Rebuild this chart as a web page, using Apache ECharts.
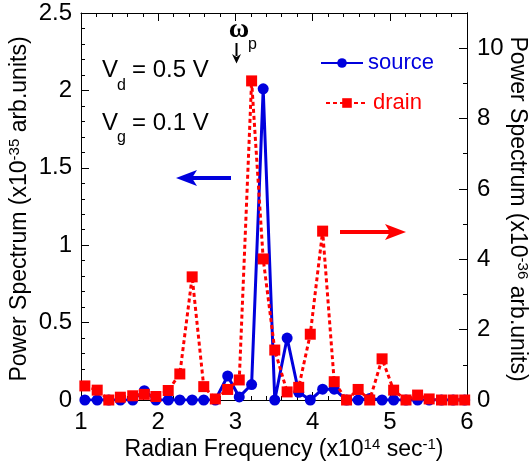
<!DOCTYPE html>
<html>
<head>
<meta charset="utf-8">
<script src="https://cdn.jsdelivr.net/npm/echarts@6/dist/echarts.min.js"></script>
<style>
html,body{margin:0;padding:0;background:#fff;}
#c{width:531px;height:470px;}
</style>
</head>
<body>
<div id="c"></div>
<script>
// Radian frequency (x10^14 sec^-1)
const freq = [1.05,1.21,1.36,1.51,1.67,1.82,1.97,2.13,2.28,2.44,2.59,2.74,2.90,3.05,3.21,3.36,3.51,3.67,3.82,3.97,4.13,4.28,4.44,4.59,4.74,4.90,5.05,5.21,5.36,5.51,5.67,5.82,5.97];
// source power spectrum (x10^-35 arb.units, left axis)
const sourceVals = [0,0,0,0,0,0.06,0,0,0,0,0,0,0.155,0.02,0.1,2.01,0,0.4,0.05,0,0.07,0.07,0,0,0.01,0,0,0,0,0,0,0,0];
// drain power spectrum (x10^-36 arb.units, right axis)
const drainVals = [0.40,0.28,0,0.08,0.12,0.16,0.10,0.27,0.74,3.5,0.38,0.03,0.30,0.57,9.07,4.01,1.42,0.23,0.36,1.87,4.80,0.52,0,0.30,0,1.17,0.28,0,0.14,0.03,0,0,0];
const seriesNames = ['source','drain'];
const leftTicks = {min:0, max:2.5, step:0.5};
const rightTicks = {min:0, max:11, step:2, labelMax:10};
const xTicks = {min:1, max:6, step:1};

const BLUE = '#0000dd', RED = '#ff0000';
const FONT = 'Liberation Sans, Arial, sans-serif';

const chart = echarts.init(document.getElementById('c'), null, {renderer:'canvas'});

const axisCommon = {
  axisLine:{show:true, onZero:false, lineStyle:{color:'#000', width:1}},
  axisTick:{show:true, inside:true, length:8, lineStyle:{color:'#000', width:1}},
  minorTick:{show:true, length:4, lineStyle:{color:'#000', width:1}},
  splitLine:{show:false}, minorSplitLine:{show:false}
};

const supRich = {
  n:{fontSize:23, fontFamily:FONT, color:'#000'},
  s:{fontSize:15, fontFamily:FONT, color:'#000', verticalAlign:'top', padding:[0,0,10,0]}
};

chart.setOption({
  backgroundColor:'#fff',
  animation:false,
  grid:{left:81, right:64, top:13, bottom:70, containLabel:false},
  xAxis:[
    Object.assign({}, axisCommon, {type:'value', min:xTicks.min, max:xTicks.max, interval:xTicks.step, position:'bottom',
      minorTick:Object.assign({}, axisCommon.minorTick, {splitNumber:5}),
      axisLabel:{fontSize:24, color:'#000', margin:10, fontFamily:FONT}}),
    Object.assign({}, axisCommon, {type:'value', min:xTicks.min, max:xTicks.max, interval:xTicks.step, position:'top',
      minorTick:Object.assign({}, axisCommon.minorTick, {splitNumber:5}),
      axisLabel:{show:false}})
  ],
  yAxis:[
    Object.assign({}, axisCommon, {type:'value', min:leftTicks.min, max:leftTicks.max, interval:leftTicks.step, position:'left',
      minorTick:Object.assign({}, axisCommon.minorTick, {splitNumber:5}),
      axisLabel:{fontSize:24, color:'#000', margin:9, fontFamily:FONT}}),
    Object.assign({}, axisCommon, {type:'value', min:rightTicks.min, max:rightTicks.max, interval:rightTicks.step, position:'right',
      minorTick:{show:false},
      axisLabel:{fontSize:24, color:'#000', margin:10, fontFamily:FONT,
        formatter:function(v){ return v <= rightTicks.labelMax ? String(v) : ''; }}}),
    Object.assign({}, axisCommon, {type:'value', min:rightTicks.min, max:rightTicks.max, interval:1, position:'right',
      axisTick:Object.assign({}, axisCommon.axisTick, {length:4}),
      minorTick:{show:false}, axisLabel:{show:false}})
  ],
  legend:[
    {data:[seriesNames[0]], left:315, top:47, itemWidth:42, itemHeight:12, padding:5,
     textStyle:{color:BLUE, fontSize:22, fontFamily:FONT}},
    {data:[seriesNames[1]], left:320, top:87, itemWidth:42, itemHeight:12, padding:5,
     textStyle:{color:RED, fontSize:22, fontFamily:FONT}}
  ],
  series:[
    {name:seriesNames[0], type:'line', xAxisIndex:0, yAxisIndex:0,
     data:freq.map((x,i)=>[x, sourceVals[i]]),
     symbol:'circle', symbolSize:11, showSymbol:true,
     lineStyle:{color:BLUE, width:3}, itemStyle:{color:BLUE}, z:2},
    {name:seriesNames[1], type:'line', xAxisIndex:0, yAxisIndex:1,
     data:freq.map((x,i)=>[x, drainVals[i]]),
     symbol:'rect', symbolSize:11, showSymbol:true,
     lineStyle:{color:RED, width:3, type:[4,3]}, itemStyle:{color:RED}, z:3}
  ],
  graphic:[
    // axis titles
    {type:'text', x:20, y:209, rotation:Math.PI/2, z:10,
     style:{text:'{n|Power Spectrum (x10}{s|-35}{n| arb.units)}', rich:supRich, align:'center', verticalAlign:'middle'}},
    {type:'text', x:517, y:209, rotation:-Math.PI/2, z:10,
     style:{text:'{n|Power Spectrum (x10}{s|-36}{n| arb.units)}', rich:supRich, align:'center', verticalAlign:'middle'}},
    {type:'text', x:284, y:450, z:10,
     style:{text:'{n|Radian Frequency (x10}{s|14}{n| sec}{s|-1}{n|)}', rich:supRich, align:'center', verticalAlign:'middle'}},
    // V_d, V_g annotations
    {type:'text', x:102, y:70, style:{text:'V', font:'24px '+FONT, fill:'#000', align:'left', verticalAlign:'middle'}},
    {type:'text', x:117, y:86, style:{text:'d', font:'16px '+FONT, fill:'#000', align:'left', verticalAlign:'middle'}},
    {type:'text', x:132, y:70, style:{text:'= 0.5 V', font:'24px '+FONT, fill:'#000', align:'left', verticalAlign:'middle'}},
    {type:'text', x:102, y:123, style:{text:'V', font:'24px '+FONT, fill:'#000', align:'left', verticalAlign:'middle'}},
    {type:'text', x:117, y:138, style:{text:'g', font:'16px '+FONT, fill:'#000', align:'left', verticalAlign:'middle'}},
    {type:'text', x:132, y:123, style:{text:'= 0.1 V', font:'24px '+FONT, fill:'#000', align:'left', verticalAlign:'middle'}},
    // omega_p
    {type:'text', x:239, y:30, style:{text:'ω', font:'bold 28px Liberation Serif, serif', fill:'#000', align:'center', verticalAlign:'middle'}},
    {type:'text', x:248, y:45, style:{text:'p', font:'16px '+FONT, fill:'#000', align:'left', verticalAlign:'middle'}},
    {type:'line', shape:{x1:236.5, y1:43, x2:236.5, y2:56}, style:{stroke:'#000', lineWidth:2}},
    {type:'polygon', shape:{points:[[236.5,63.5],[232,54],[236.5,57],[241,54]]}, style:{fill:'#000'}},
    // blue arrow (left)
    {type:'line', shape:{x1:190, y1:178, x2:231, y2:178}, style:{stroke:BLUE, lineWidth:4}},
    {type:'polygon', shape:{points:[[176,178],[197,170],[192,178],[197,186]]}, style:{fill:BLUE}},
    // red arrow (right)
    {type:'line', shape:{x1:340, y1:232, x2:392, y2:232}, style:{stroke:RED, lineWidth:4}},
    {type:'polygon', shape:{points:[[406,232],[385,224],[390,232],[385,240]]}, style:{fill:RED}}
  ]
});
</script>
</body>
</html>
